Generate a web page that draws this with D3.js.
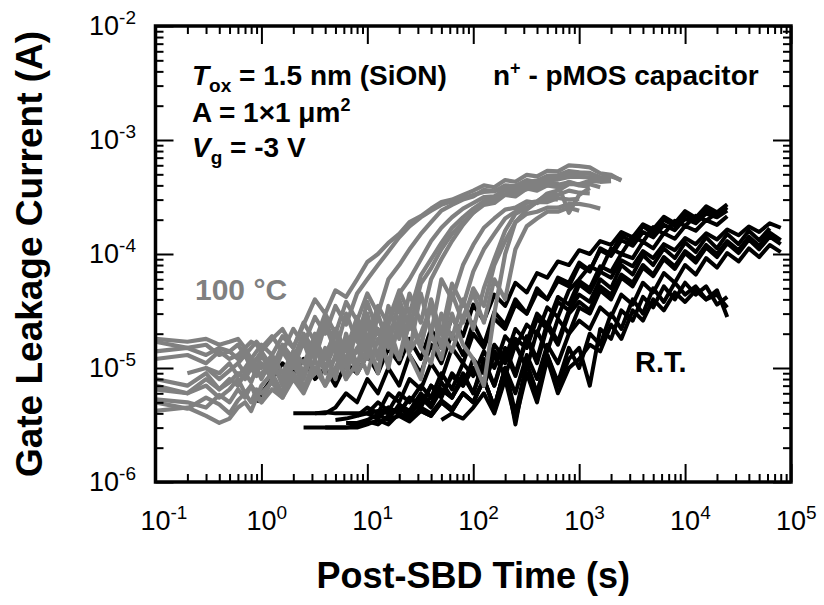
<!DOCTYPE html>
<html>
<head>
<meta charset="utf-8">
<script src="https://cdn.jsdelivr.net/npm/d3@7"></script>
<style>
  body { margin: 0; background: #fff; }
  text { font-family: "Liberation Sans", Arial, sans-serif; }
</style>
</head>
<body>
<div id="chart"></div>
<script>
// sample times shared by every trace (s)
var timeGrid = [
    0.1, 0.2, 0.3, 0.4, 0.5, 0.6, 0.7, 0.8, 0.9,
    1, 1.26, 1.58, 2, 2.5, 3.2, 4, 5, 6.3, 8,
    10, 12.6, 15.8, 20, 25, 32, 40, 50, 63, 80,
    100, 126, 158, 200, 250, 320, 400, 500, 630, 800,
    1000, 1260, 1580, 2000, 2500, 3200, 4000, 5000, 6300, 8000,
    10000, 12600, 15800, 20000, 25000, 32000, 40000, 50000, 63000, 80000
];

// 100 °C traces: index of first sample in timeGrid, then gate current in uA
var hotStart = [0, 0, 0, 0, 0, 0, 0, 0, 0, 2, 5, 1, 0];
var hotCurrent = [
    [12, 13, 11, 14, 12, 13, 15, 12, 14,
     16, 13, 19, 15, 24, 40, 30, 48, 42, 60,
     85, 100, 125, 150, 190, 215, 250, 285, 300, 330,
     360, 400, 385, 445, 430, 495, 480, 535, 530, 600,
     590, 575, 510, 495, 440],
    [18, 17, 18, 16, 17, 18, 15, 17, 16,
     14, 18, 22, 15, 25, 17, 30, 20, 38, 26,
     45, 30, 60, 80, 110, 150, 190, 240, 270, 300,
     320, 365, 355, 400, 395, 445, 425, 475, 465, 510,
     515, 505, 465, 455],
    [17, 15, 16, 13, 14, 12, 14, 11, 12,
     10, 13, 9, 14, 11, 18, 12, 22, 14, 28,
     18, 35, 24, 45, 60, 90, 130, 170, 210, 250,
     280, 315, 320, 365, 355, 400, 385, 430, 410, 230,
     330, 380],
    [8, 7, 9, 6.5, 8, 7, 9, 7.5, 10,
     8, 12, 7, 14, 9, 20, 10, 16, 8, 25,
     12, 30, 15, 40, 22, 55, 75, 110, 150, 190,
     230, 270, 280, 330, 320, 375, 360, 400, 385, 430,
     405, 410, 385],
    [6.5, 6, 7, 5.5, 6.5, 8, 6, 7, 5.5,
     7, 9, 6, 12, 8, 16, 9, 22, 11, 14,
     30, 12, 35, 18, 45, 25, 60, 90, 130, 180,
     230, 290, 310, 370, 380, 430, 440, 485, 490, 535,
     520, 515, 470, 480, 445],
    [5.3, 5, 4.5, 5.8, 5, 6.5, 5.5, 7, 6,
     5, 8, 6, 11, 7, 9, 15, 8, 20, 10,
     25, 12, 18, 35, 14, 45, 20, 60, 40, 80,
     120, 170, 205, 245, 255, 290, 280, 310, 300],
    [4.2, 4.5, 3.8, 3.3, 3.6, 4.5, 5, 4.2, 5.5,
     5, 6.5, 5.5, 8, 6, 10, 7, 13, 8, 11,
     18, 9, 24, 12, 30, 15, 40, 20, 55, 35,
     70, 110, 150, 205, 235, 280, 290, 330, 330, 360,
     345, 340],
    [5, 4.4, 5.5, 4.8, 4, 5.2, 6, 5, 6.5,
     6, 7.5, 5.5, 9, 6.5, 12, 7, 10, 16, 9,
     13, 22, 10, 28, 14, 20, 35, 15, 45, 25,
     50, 35, 80, 130, 190, 245, 285, 340, 360, 410,
     410, 440, 430, 435],
    [7, 6, 8, 6.5, 7.5, 9, 8, 10, 8.5,
     9, 11, 8, 13, 9, 15, 10, 12, 18, 11,
     14, 10, 20, 12, 25, 15, 11, 30, 18, 40,
     22, 50, 90, 160, 225, 255, 285, 285, 310, 300,
     305],
    [10, 9, 11, 8.5, 10, 12, 9,
     11, 8, 14, 10, 17, 9, 13, 20, 10, 15,
     9, 18, 11, 25, 13, 8, 20, 12, 30, 16,
     12, 7, 30, 100, 190, 225, 235, 255, 255, 275,
     275, 265, 250],
    [11, 13, 10, 12,
     14, 10, 16, 12, 20, 14, 26, 16, 12, 22,
     15, 28, 18, 12, 25, 16, 35, 20, 14, 28,
     45, 25, 60, 40, 110, 175, 205, 235, 235, 255,
     240],
    [9, 10, 8, 9.5, 11, 9, 12, 10,
     13, 9, 15, 11, 19, 12, 24, 14, 30, 17,
     38, 20, 26, 48, 30, 65, 90, 125, 170, 210,
     250, 290, 295, 335, 345, 370, 380, 400, 405, 425,
     400, 390],
    [14, 15, 13, 15, 14, 16, 13, 15, 17,
     15, 19, 14, 22, 16, 28, 20, 35, 24, 45,
     60, 80, 105, 140, 175, 210, 240, 270, 290, 310,
     330, 350, 355, 385, 385, 415, 415, 445, 450, 475,
     475, 470, 450]
];

// room temperature traces, same layout (uA)
var rtStart = [8, 14, 16, 18, 19, 13, 17, 20, 12, 21, 15, 22, 26];
var rtCurrent = [
    [5,
     6, 8, 11, 9, 12, 8, 10, 7, 11, 9,
     13, 9, 15, 11, 18, 12, 22, 15, 28, 19,
     36, 26, 44, 35, 56, 46, 68, 62, 86, 80,
     108, 100, 130, 120, 156, 140, 182, 165, 212, 186,
     238, 208, 262, 232, 272],
    [4, 4, 4.5, 6, 5,
     8, 6, 10, 7, 13, 9, 16, 11, 20, 13,
     25, 16, 31, 24, 40, 30, 50, 40, 62, 56,
     84, 72, 108, 96, 132, 118, 156, 140, 180, 162,
     204, 186, 226, 210, 240],
    [3.5, 3.6, 3.8,
     4, 5, 4.2, 6, 5, 7, 5.5, 9, 6.5, 11,
     8.5, 14, 10, 19, 15, 24, 20, 34, 28, 48,
     60, 78, 70, 112, 100, 142, 128, 172, 150, 196,
     176, 216, 196, 230],
    [3.8,
     4.5, 4, 6, 5, 8, 6.5, 11, 8, 15, 11,
     20, 15, 27, 22, 36, 30, 46, 40, 58, 52,
     80, 70, 112, 100, 146, 126, 176, 150, 200, 176,
     222, 196, 244, 220, 256],
    [4, 3.6, 4.5, 4, 5.5, 4.5, 7, 5.5, 9, 7,
     12, 9, 16, 12, 22, 17, 30, 24, 42, 36,
     58, 50, 78, 70, 100, 92, 128, 112, 152, 136,
     176, 160, 198, 180, 214],
    [3, 3, 3, 3, 3, 3.1,
     3.4, 3.2, 3.8, 4.5, 3.8, 5.5, 4.5, 6.5, 5.5, 8.5,
     6, 11, 7, 14, 8.5, 18, 11, 23, 16, 30,
     38, 32, 52, 44, 66, 56, 80, 66, 94, 78,
     106, 90, 120, 100, 130, 108, 142, 118, 154, 132],
    [3.3, 3.3,
     3.5, 3.9, 3.5, 4.8, 4.2, 6, 4.8, 7.5, 5.5, 9,
     6, 12, 7, 15, 9, 19, 12, 25, 17, 32,
     44, 38, 60, 50, 80, 66, 98, 80, 112, 92,
     126, 104, 140, 112, 150, 122, 160, 132, 168],
    [4, 4.5, 4, 5.5, 4.8, 7, 5.8, 8.5, 7,
     10, 7, 13, 8.5, 16, 10, 21, 14, 27, 20,
     34, 30, 48, 40, 62, 52, 76, 64, 90, 74,
     102, 84, 114, 94, 124, 102, 134, 110, 142, 122],
    [4, 4, 4, 4.1, 4, 4, 4,
     4, 4.2, 4, 4.4, 4.1, 4.8, 5.5, 6.5, 5.5, 8,
     10, 7, 14, 11, 18, 15, 27, 22, 38, 32,
     54, 46, 70, 62, 88, 78, 106, 92, 122, 108,
     138, 122, 152, 134, 164, 146, 174, 156, 186, 170],
    [3.5, 3.8, 3.4, 4.2, 3.8, 5, 4.2, 6,
     5, 8, 4.5, 10, 6, 13, 8, 16, 11, 20,
     26, 22, 34, 28, 44, 36, 56, 46, 68, 56,
     80, 66, 92, 76, 102, 86, 112, 94, 120, 104],
    [3, 3, 3, 3,
     3.2, 3.5, 3.2, 4, 3.6, 4.5, 4, 5.2, 4.4, 6,
     5, 8, 4.5, 10, 4, 11, 6, 13, 7, 12,
     15, 7, 22, 18, 32, 26, 42, 34, 52, 40,
     56, 44, 52, 36, 42],
    [4, 3.6, 4.2, 3.8, 5, 4.2, 6,
     5, 8, 4.5, 10, 3.2, 11, 6, 13, 7.5, 15,
     10, 20, 16, 30, 22, 40, 30, 50, 38, 56,
     44, 52, 40, 48, 28],
    [3.5, 4, 3.6,
     4.5, 6, 4, 8, 3.5, 9, 5, 12, 6, 10,
     12, 16, 14, 24, 18, 32, 26, 40, 32, 46,
     38, 48, 40, 44, 34]
];

var xDomain = [1e-1, 1e5];
var yDomain = [1e-6, 1e-2];

function init() {
    var w = 824;
    var h = 605;
    var left = 155.5, right = 791, top = 26, bottom = 482;

    var svg = d3.select("#chart")
        .append("svg")
        .attr("width", w)
        .attr("height", h);

    var x = d3.scaleLog().domain(xDomain).range([left, right]);
    var y = d3.scaleLog().domain(yDomain).range([bottom, top]);

    function isDecade(d) {
        var l = Math.log10(d);
        return Math.abs(l - Math.round(l)) < 1e-6;
    }
    var xMajor = x.ticks().filter(isDecade);
    var xMinor = x.ticks().filter(d => !isDecade(d));
    var yMajor = y.ticks().filter(isDecade);
    var yMinor = y.ticks().filter(d => !isDecade(d));

    svg.append("defs").append("clipPath")
        .attr("id", "plot")
        .append("rect")
        .attr("x", left).attr("y", top)
        .attr("width", right - left).attr("height", bottom - top);

    // traces
    var line = d3.line()
        .x(d => x(d[0]))
        .y(d => y(d[1]));

    function points(start, values) {
        return values.map((v, i) => [timeGrid[start + i], v * 1e-6]);
    }

    var traces = svg.append("g").attr("clip-path", "url(#plot)");

    traces.selectAll(".rt")
        .data(rtCurrent)
        .enter()
        .append("path")
        .attr("class", "rt")
        .attr("d", (d, i) => line(points(rtStart[i], d)))
        .attr("fill", "none")
        .attr("stroke", "#000")
        .attr("stroke-width", 4)
        .attr("stroke-linejoin", "round");

    traces.selectAll(".hot")
        .data(hotCurrent)
        .enter()
        .append("path")
        .attr("class", "hot")
        .attr("d", (d, i) => line(points(hotStart[i], d)))
        .attr("fill", "none")
        .attr("stroke", "#808080")
        .attr("stroke-width", 4.2)
        .attr("stroke-linejoin", "round");

    // inward ticks on all four sides
    function ticks(axis, tx, ty) {
        svg.append("g")
            .attr("transform", "translate(" + tx + "," + ty + ")")
            .call(axis)
            .call(g => g.select(".domain").remove())
            .call(g => g.selectAll("line").attr("stroke", "#000").attr("stroke-width", 2));
    }
    [[xMajor, 18], [xMinor, 8]].forEach(function (t) {
        ticks(d3.axisBottom(x).tickValues(t[0]).tickSize(-t[1]).tickFormat(""), 0, bottom);
        ticks(d3.axisTop(x).tickValues(t[0]).tickSize(-t[1]).tickFormat(""), 0, top);
    });
    [[yMajor, 18], [yMinor, 8]].forEach(function (t) {
        ticks(d3.axisLeft(y).tickValues(t[0]).tickSize(-t[1]).tickFormat(""), left, 0);
        ticks(d3.axisRight(y).tickValues(t[0]).tickSize(-t[1]).tickFormat(""), right, 0);
    });

    svg.append("rect")
        .attr("x", left).attr("y", top)
        .attr("width", right - left).attr("height", bottom - top)
        .attr("fill", "none")
        .attr("stroke", "#000")
        .attr("stroke-width", 3.5);

    // tick labels as 10 with superscript
    var xl = svg.selectAll(".xlab")
        .data(xMajor)
        .enter()
        .append("text")
        .attr("class", "xlab")
        .attr("x", d => x(d) - 15)
        .attr("y", 530)
        .attr("font-size", 27);
    xl.append("tspan").text("10");
    xl.append("tspan").attr("dy", -11).attr("font-size", 19)
        .text(d => Math.round(Math.log10(d)));

    var yl = svg.selectAll(".ylab")
        .data(yMajor)
        .enter()
        .append("text")
        .attr("class", "ylab")
        .attr("x", 136)
        .attr("y", d => y(d) + 9)
        .attr("text-anchor", "end")
        .attr("font-size", 27);
    yl.append("tspan").text("10");
    yl.append("tspan").attr("dy", -11).attr("font-size", 19)
        .text(d => Math.round(Math.log10(d)));

    // axis titles
    svg.append("text")
        .attr("x", (left + right) / 2)
        .attr("y", 588)
        .attr("text-anchor", "middle")
        .attr("font-size", 36)
        .attr("font-weight", "bold")
        .text("Post-SBD Time (s)");

    svg.append("text")
        .attr("transform", "translate(42," + (top + bottom) / 2 + ") rotate(-90)")
        .attr("text-anchor", "middle")
        .attr("font-size", 37)
        .attr("font-weight", "bold")
        .text("Gate Leakage Current (A)");

    // annotations
    var note = svg.append("g")
        .attr("font-weight", "bold")
        .attr("font-size", 28);

    var t1 = note.append("text").attr("x", 192).attr("y", 85);
    t1.append("tspan").attr("font-style", "italic").text("T");
    t1.append("tspan").attr("font-size", 19).attr("dy", 7).text("ox");
    t1.append("tspan").attr("dy", -7).text(" = 1.5 nm (SiON)");

    var t2 = note.append("text").attr("x", 493).attr("y", 85);
    t2.append("tspan").text("n");
    t2.append("tspan").attr("font-size", 18).attr("dy", -11).text("+");
    t2.append("tspan").attr("dy", 11).text(" - pMOS capacitor");

    var t3 = note.append("text").attr("x", 192).attr("y", 122);
    t3.append("tspan").text("A = 1\u00d71 \u03bcm");
    t3.append("tspan").attr("font-size", 18).attr("dy", -11).text("2");

    var t4 = note.append("text").attr("x", 192).attr("y", 157);
    t4.append("tspan").attr("font-style", "italic").text("V");
    t4.append("tspan").attr("font-size", 19).attr("dy", 7).text("g");
    t4.append("tspan").attr("dy", -7).text(" = -3 V");

    note.append("text")
        .attr("x", 195).attr("y", 300)
        .attr("font-size", 30)
        .attr("fill", "#808080")
        .text("100 \u00b0C");

    note.append("text")
        .attr("x", 635).attr("y", 372)
        .attr("font-size", 29)
        .text("R.T.");
}

window.onload = init;
</script>
</body>
</html>
